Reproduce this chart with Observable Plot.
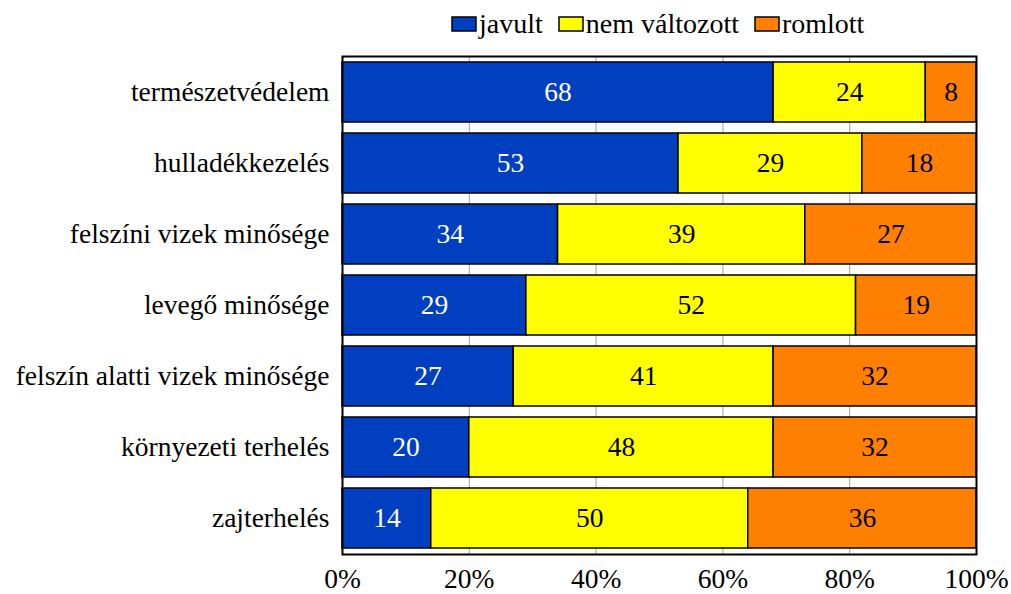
<!DOCTYPE html>
<html>
<head>
<meta charset="utf-8">
<script src="https://cdn.jsdelivr.net/npm/d3@7"></script>
<script src="https://cdn.jsdelivr.net/npm/@observablehq/plot@0.6"></script>
<style>
  html, body { margin: 0; padding: 0; background: #fff; }
  #wrap { position: relative; width: 1011px; height: 594px; }
  #chart svg, #chart svg text { font-family: 'Liberation Serif', 'Times New Roman', serif !important; }
  #legend, #legend * { font-family: 'Liberation Serif', 'Times New Roman', serif !important; font-size: 28px !important; color: #000; }
  #legend { position: absolute; left: 452px; top: 7px; }
  #legend svg { overflow: visible; margin-right: 3px !important; }
  #legend svg rect { stroke: #000; stroke-width: 1.5px; }
  #legend span { margin-right: 16px !important; }
</style>
</head>
<body>
<div id="wrap"><div id="chart"></div><div id="legend"></div></div>
<script>
const categories = [
  "természetvédelem",
  "hulladékkezelés",
  "felszíni vizek minősége",
  "levegő minősége",
  "felszín alatti vizek minősége",
  "környezeti terhelés",
  "zajterhelés"
];
const seriesNames = ["javult", "nem változott", "romlott"];
const javult = [68, 53, 34, 29, 27, 20, 14];
const nemValtozott = [24, 29, 39, 52, 41, 48, 50];
const romlott = [8, 18, 27, 19, 32, 32, 36];
const colors = ["#0040C0", "#FFFF00", "#FF8000"];
const xTicks = [0, 20, 40, 60, 80, 100];

const seriesValues = [javult, nemValtozott, romlott];
const data = [];
seriesNames.forEach((s, si) => {
  categories.forEach((c, ci) => {
    data.push({cat: c, series: s, value: seriesValues[si][ci]});
  });
});

const font = "Liberation Serif";
const fs = 27.5;

const chart = Plot.plot({
  width: 1011,
  height: 594,
  marginLeft: 342,
  marginRight: 35,
  marginTop: 56,
  marginBottom: 40,
  style: {fontSize: fs + "px", background: "#fff", color: "#000", overflow: "visible"},
  x: {domain: [0, 100], ticks: xTicks, tickFormat: d => d + "%", label: null},
  y: {domain: categories, paddingInner: 0.16, paddingOuter: 0.07, label: null},
  color: {domain: seriesNames, range: colors},
  marks: [
    Plot.gridX(xTicks, {stroke: "#a0a0a0", strokeOpacity: 1, strokeWidth: 1}),
    Plot.barX(data, Plot.stackX({x: "value", y: "cat", fill: "series", stroke: "#000", strokeWidth: 1.5})),
    Plot.text(data, Plot.stackX({
      x: "value", y: "cat", text: "value",
      fill: d => d.series === "javult" ? "#fff" : "#000",
      fontSize: fs, fontFamily: font
    })),
    Plot.frame({stroke: "#000", strokeWidth: 2}),
    Plot.axisX({ticks: xTicks, tickFormat: d => d + "%", tickSize: 0, tickPadding: 14, fontSize: fs, fontFamily: font, label: null}),
    Plot.axisY({tickSize: 0, tickPadding: 13, fontSize: fs, fontFamily: font, label: null})
  ]
});
document.getElementById("chart").appendChild(chart);

const legend = Plot.legend({
  color: {domain: seriesNames, range: colors},
  legend: "swatches",
  swatchWidth: 24,
  swatchHeight: 14,
  className: "lg",
  style: {fontFamily: font, fontSize: "28px", color: "#000"}
});
document.getElementById("legend").appendChild(legend);
</script>
</body>
</html>
